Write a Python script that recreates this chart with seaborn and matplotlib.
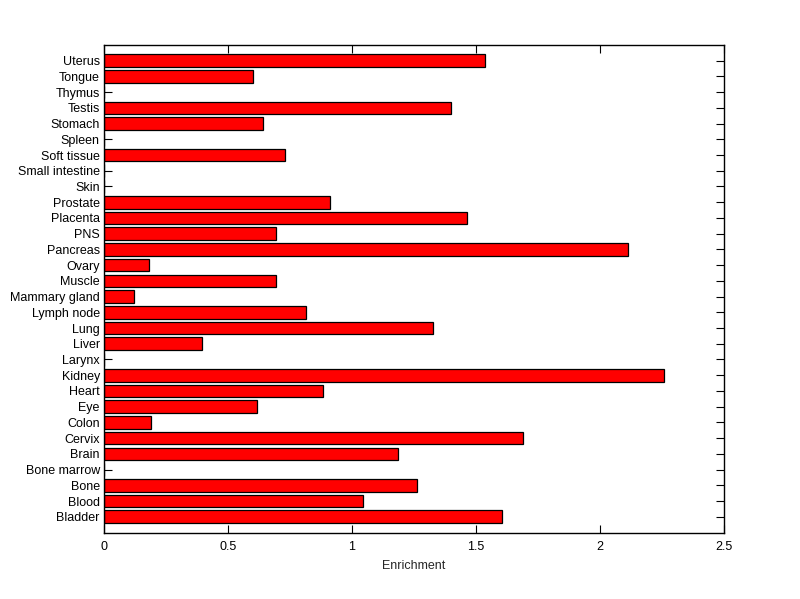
import matplotlib
matplotlib.use("Agg")
import matplotlib.pyplot as plt
import seaborn as sns
import pandas as pd

tissues = ["Uterus", "Tongue", "Thymus", "Testis", "Stomach", "Spleen", "Soft tissue",
           "Small intestine", "Skin", "Prostate", "Placenta", "PNS", "Pancreas", "Ovary",
           "Muscle", "Mammary gland", "Lymph node", "Lung", "Liver", "Larynx", "Kidney",
           "Heart", "Eye", "Colon", "Cervix", "Brain", "Bone marrow", "Bone", "Blood", "Bladder"]
enrichment = [1.535, 0.602, 0.0, 1.401, 0.642, 0.0, 0.731,
              0.0, 0.0, 0.913, 1.462, 0.695, 2.112, 0.182,
              0.695, 0.121, 0.816, 1.325, 0.396, 0.0, 2.258,
              0.884, 0.618, 0.19, 1.688, 1.187, 0.0, 1.264, 1.046, 1.603]
x_ticks = [0, 0.5, 1, 1.5, 2, 2.5]
x_tick_labels = ["0", "0.5", "1", "1.5", "2", "2.5"]

df = pd.DataFrame({"tissue": tissues, "value": enrichment})

sns.set_style("white")
plt.rcParams["font.family"] = ["Liberation Sans", "DejaVu Sans"]

fig = plt.figure(figsize=(8, 5.99), dpi=100)
ax = fig.add_axes([0.13, 0.111, 0.775, 0.814])

sns.barplot(data=df, y="tissue", x="value", orient="h", color="#ff0000",
            width=0.8, edgecolor="black", linewidth=0.9, saturation=1, ax=ax)
for p in ax.patches:
    p.set_facecolor("#ff0000")

ax.set_xlim(0, 2.5)
ax.set_ylim(len(tissues), -1)
ax.set_xticks(x_ticks)
ax.set_xticklabels(x_tick_labels)
ax.set_ylabel("")
ax.set_xlabel("Enrichment", fontsize=9, labelpad=5)

for s in ax.spines.values():
    s.set_visible(True)
    s.set_color("black")
    s.set_linewidth(1.0)

ax.tick_params(axis="both", which="both", direction="in", length=6, width=0.8,
               top=True, right=True, left=True, bottom=True,
               labelsize=9, colors="black", pad=6)
ax.tick_params(axis="y", pad=3)

fig.savefig("out.png", dpi=100, facecolor="white")
